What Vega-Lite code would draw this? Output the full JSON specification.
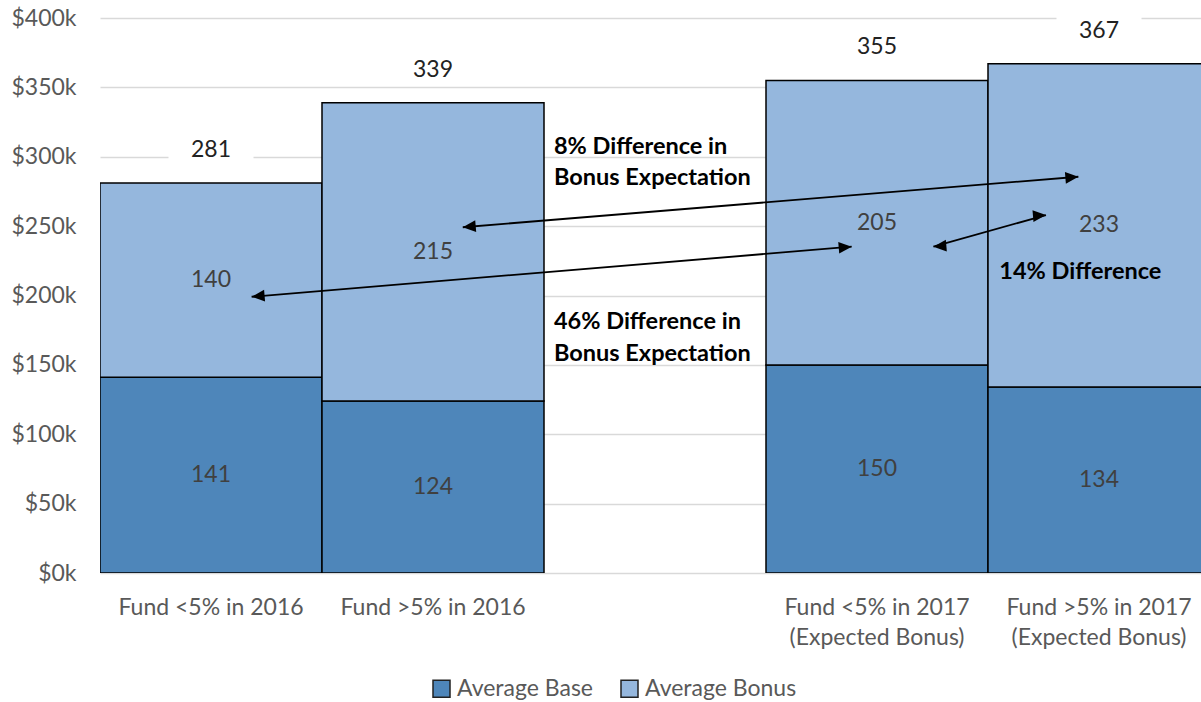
{
  "$schema": "https://vega.github.io/schema/vega-lite/v6.json",
  "width": 1101,
  "height": 555,
  "autosize": "none",
  "padding": {"left": 100, "top": 18, "right": 0, "bottom": 129},
  "background": "white",
  "config": {"view": {"stroke": null}, "font": "Lato"},
  "datasets": {
    "pay": [
      {"category": "Fund <5% in 2016", "series": "Average Base", "value": 141},
      {"category": "Fund <5% in 2016", "series": "Average Bonus", "value": 140},
      {"category": "Fund >5% in 2016", "series": "Average Base", "value": 124},
      {"category": "Fund >5% in 2016", "series": "Average Bonus", "value": 215},
      {"category": "Fund <5% in 2017 (Expected Bonus)", "series": "Average Base", "value": 150},
      {"category": "Fund <5% in 2017 (Expected Bonus)", "series": "Average Bonus", "value": 205},
      {"category": "Fund >5% in 2017 (Expected Bonus)", "series": "Average Base", "value": 134},
      {"category": "Fund >5% in 2017 (Expected Bonus)", "series": "Average Bonus", "value": 233}
    ],
    "arrows": [
      {"arrow": "a1", "end": "start", "x": 0.683, "y": 199.1},
      {"arrow": "a1", "end": "end", "x": 3.386, "y": 235.2},
      {"arrow": "a2", "end": "start", "x": 1.634, "y": 249.2},
      {"arrow": "a2", "end": "end", "x": 4.407, "y": 285.6},
      {"arrow": "a3", "end": "start", "x": 3.754, "y": 235.2},
      {"arrow": "a3", "end": "end", "x": 4.261, "y": 258.0}
    ],
    "notes": [
      {"note": "8% Difference in\nBonus Expectation", "x": 2.045, "y": 307.2},
      {"note": "46% Difference in\nBonus Expectation", "x": 2.045, "y": 180.7},
      {"note": "14% Difference", "x": 4.051, "y": 217.2}
    ]
  },
  "layer": [
    {
      "data": {"name": "pay"},
      "transform": [
        {"stack": "value", "groupby": ["category"], "sort": [{"field": "series", "order": "ascending"}], "as": ["v0", "v1"]},
        {"calculate": "(datum.v0 + datum.v1) / 2", "as": "mid"}
      ],
      "encoding": {
        "x": {
          "field": "category",
          "type": "nominal",
          "title": null,
          "scale": {
            "domain": ["Fund <5% in 2016", "Fund >5% in 2016", "gap", "Fund <5% in 2017 (Expected Bonus)", "Fund >5% in 2017 (Expected Bonus)"],
            "range": [0, 1110],
            "paddingInner": 0,
            "paddingOuter": 0
          },
          "axis": {
            "domain": false,
            "ticks": false,
            "labelAngle": 0,
            "labelFontSize": 23,
            "labelColor": "#595959",
            "labelPadding": 23,
            "labelLineHeight": 30,
            "labelLimit": 400,
            "labelExpr": "datum.label == 'gap' ? '' : split(replace(datum.label, ' (', '|('), '|')"
          }
        }
      },
      "layer": [
        {
          "mark": {"type": "bar", "stroke": "black", "strokeWidth": 1.5, "clip": true},
          "encoding": {
            "y": {
              "field": "v0",
              "type": "quantitative",
              "title": null,
              "scale": {"domain": [0, 400], "nice": false},
              "axis": {
                "values": [0, 50, 100, 150, 200, 250, 300, 350, 400],
                "labelExpr": "'$' + datum.value + 'k'",
                "grid": true,
                "gridColor": "#d9d9d9",
                "gridWidth": 1.5,
                "domain": false,
                "ticks": false,
                "labelFontSize": 23,
                "labelColor": "#595959",
                "labelPadding": 24
              }
            },
            "y2": {"field": "v1"},
            "color": {
              "field": "series",
              "type": "nominal",
              "scale": {"domain": ["Average Base", "Average Bonus"], "range": ["#4E86BA", "#95B7DD"]},
              "legend": {
                "orient": "none",
                "legendX": 330,
                "legendY": 659,
                "direction": "horizontal",
                "title": null,
                "labelFontSize": 23,
                "labelColor": "#595959",
                "symbolType": "square",
                "symbolSize": 289,
                "symbolStrokeColor": "#222222",
                "symbolStrokeWidth": 1.5,
                "columnPadding": 25,
                "labelOffset": 4
              }
            }
          }
        },
        {
          "mark": {"type": "text", "fontSize": 23, "color": "#404040"},
          "encoding": {
            "y": {"field": "mid", "type": "quantitative", "title": null},
            "text": {"field": "value", "type": "quantitative"}
          }
        },
        {
          "transform": [
            {"aggregate": [{"op": "sum", "field": "value", "as": "total"}], "groupby": ["category"]}
          ],
          "layer": [
            {
              "mark": {"type": "point", "shape": "M-1,-0.35H1V0.35H-1Z", "size": 7225, "filled": true, "fill": "white", "opacity": 1, "strokeWidth": 0, "yOffset": -33},
              "encoding": {"y": {"field": "total", "type": "quantitative", "title": null}}
            },
            {
              "mark": {"type": "text", "fontSize": 23, "color": "#222222", "yOffset": -33},
              "encoding": {
                "y": {"field": "total", "type": "quantitative", "title": null},
                "text": {"field": "total", "type": "quantitative"}
              }
            }
          ]
        }
      ]
    },
    {
      "layer": [
        {
          "data": {"name": "arrows"},
          "mark": {"type": "line", "color": "black", "strokeWidth": 1.8},
          "encoding": {
            "x": {"field": "x", "type": "quantitative", "scale": {"domain": [0, 5], "range": [0, 1110]}, "axis": null},
            "y": {"field": "y", "type": "quantitative", "scale": {"domain": [0, 400], "nice": false}, "axis": null},
            "detail": {"field": "arrow"}
          }
        },
        {
          "data": {"name": "arrows"},
          "mark": {"type": "point", "filled": true, "color": "black", "opacity": 1, "size": 169, "strokeWidth": 0},
          "encoding": {
            "x": {"field": "x", "type": "quantitative", "axis": null},
            "y": {"field": "y", "type": "quantitative", "axis": null},
            "shape": {"field": "end", "type": "nominal", "scale": {"domain": ["start", "end"], "range": ["M0,0L2,-0.9L2,0.9Z", "M0,0L-2,-0.9L-2,0.9Z"]}, "legend": null},
            "angle": {"field": "arrow", "type": "nominal", "scale": {"domain": ["a1", "a2", "a3"], "range": [-4.8, -4.7, -15.7]}, "legend": null}
          }
        },
        {
          "data": {"name": "notes"},
          "transform": [{"calculate": "split(datum.note, '\\n')", "as": "lines"}],
          "mark": {"type": "text", "align": "left", "baseline": "middle", "fontSize": 23.5, "fontWeight": "bold", "color": "black", "lineHeight": 31.6},
          "encoding": {
            "x": {"field": "x", "type": "quantitative", "axis": null},
            "y": {"field": "y", "type": "quantitative", "axis": null},
            "text": {"field": "lines"}
          }
        }
      ]
    }
  ],
  "resolve": {"scale": {"x": "independent", "y": "independent"}}
}
